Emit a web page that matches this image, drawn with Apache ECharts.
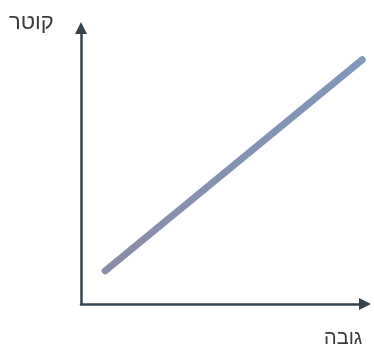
<!DOCTYPE html>
<html>
<head>
<meta charset="utf-8">
<script src="https://cdn.jsdelivr.net/npm/echarts@6/dist/echarts.min.js"></script>
<style>
  html, body { margin: 0; padding: 0; background: #ffffff; }
  #chart { width: 374px; height: 349px; }
</style>
</head>
<body>
<div id="chart"></div>
<script>
// Conceptual relation: diameter grows linearly with height
const heightValues = [8.5, 99];
const diameterValues = [12, 88.5];
const xAxisTitle = 'גובה';
const yAxisTitle = 'קוטר';

const axisColor = '#34434d';
const labelFont = '"Liberation Sans", "DejaVu Sans", sans-serif';
const chart = echarts.init(document.getElementById('chart'));

const axisCommon = {
  type: 'value', min: 0, max: 100,
  axisLine: {
    show: true, onZero: false,
    symbol: ['none', 'triangle'], symbolSize: [12, 12],
    lineStyle: { color: axisColor, width: 2.5 }
  },
  axisTick: { show: false }, axisLabel: { show: false }, splitLine: { show: false }
};

chart.setOption({
  backgroundColor: '#ffffff',
  animation: false,
  grid: { left: 81, right: 9, top: 28, bottom: 45 },
  xAxis: axisCommon,
  yAxis: axisCommon,
  graphic: [
    {
      type: 'text', left: 9, top: 12,
      style: { text: yAxisTitle, fill: '#3b3b3b', fontSize: 22, fontFamily: labelFont }
    },
    {
      type: 'text', left: 324, top: 328,
      style: { text: xAxisTitle, fill: '#3b3b3b', fontSize: 20, fontFamily: labelFont }
    }
  ],
  series: [{
    type: 'line',
    data: heightValues.map((h, i) => [h, diameterValues[i]]),
    showSymbol: false,
    lineStyle: {
      width: 7,
      cap: 'round',
      color: new echarts.graphic.LinearGradient(0, 1, 1, 0, [
        { offset: 0, color: '#8a8ca8' },
        { offset: 1, color: '#7f98bc' }
      ])
    }
  }]
});
</script>
</body>
</html>
